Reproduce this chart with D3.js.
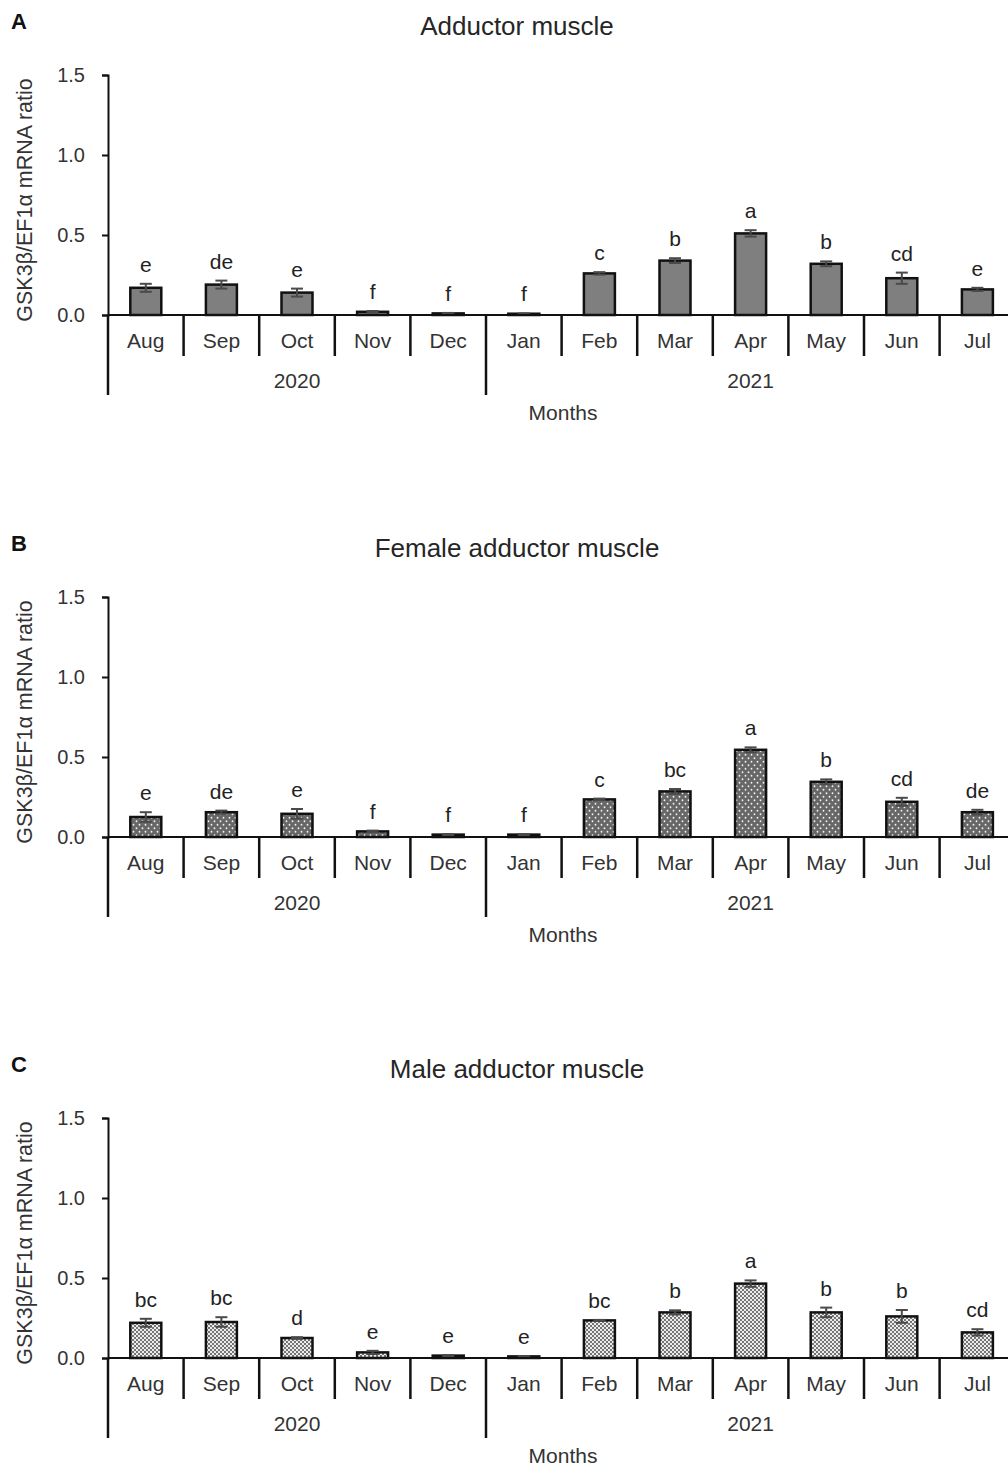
<!DOCTYPE html>
<html>
<head>
<meta charset="utf-8">
<script src="https://cdn.jsdelivr.net/npm/d3@7"></script>
<style>
  html, body { margin: 0; padding: 0; background: #fff; }
  svg { display: block; }
  text { font-family: "Liberation Sans", Arial, sans-serif; fill: #262626; }
</style>
</head>
<body>
<svg id="chart" width="1008" height="1468"></svg>
<script>
// ---- data ----
const months = ["Aug","Sep","Oct","Nov","Dec","Jan","Feb","Mar","Apr","May","Jun","Jul"];
const years = ["2020","2021"];
const yearMonthCounts = [5, 7];
const yTicks = [0, 0.5, 1.0, 1.5];
const yTitle = "GSK3β/EF1α mRNA ratio";
const xTitle = "Months";

const panelLabels = ["A","B","C"];
const panelTitles = ["Adductor muscle","Female adductor muscle","Male adductor muscle"];

const adductorValues  = [0.17, 0.19, 0.14, 0.02, 0.01, 0.008, 0.26, 0.34, 0.51, 0.32, 0.23, 0.16];
const adductorErrors  = [0.025,0.025,0.025,0.005,0.003,0.002,0.008,0.015,0.02, 0.015,0.035,0.01];
const adductorLetters = ["e","de","e","f","f","f","c","b","a","b","cd","e"];

const femaleValues  = [0.125,0.155,0.145,0.035,0.015,0.015,0.235,0.285,0.545,0.345,0.22, 0.155];
const femaleErrors  = [0.03, 0.01, 0.03, 0.005,0.003,0.003,0.005,0.015,0.015,0.015,0.025,0.015];
const femaleLetters = ["e","de","e","f","f","f","c","bc","a","b","cd","de"];

const maleValues  = [0.22, 0.225,0.125,0.035,0.015,0.01, 0.235,0.285,0.465,0.285,0.26, 0.16];
const maleErrors  = [0.025,0.03, 0.005,0.01, 0.003,0.002,0.003,0.013,0.02, 0.03, 0.04, 0.02];
const maleLetters = ["bc","bc","d","e","e","e","bc","b","a","b","b","cd"];

// ---- drawing ----
const svg = d3.select("#chart");
const defs = svg.append("defs");

// dotted pattern
const pDots = defs.append("pattern").attr("id","dots").attr("patternUnits","userSpaceOnUse")
  .attr("width",6).attr("height",7);
pDots.append("rect").attr("width",6).attr("height",7).attr("fill","#676767");
pDots.append("circle").attr("cx",1.5).attr("cy",1.75).attr("r",0.9).attr("fill","#f2f2f2");
pDots.append("circle").attr("cx",4.5).attr("cy",5.25).attr("r",0.9).attr("fill","#f2f2f2");

// checker pattern
const pChk = defs.append("pattern").attr("id","checker").attr("patternUnits","userSpaceOnUse")
  .attr("width",4).attr("height",4);
pChk.append("rect").attr("width",4).attr("height",4).attr("fill","#ececec");
pChk.append("rect").attr("width",2).attr("height",2).attr("fill","#757575");
pChk.append("rect").attr("x",2).attr("y",2).attr("width",2).attr("height",2).attr("fill","#757575");

const fills = ["#7f7f7f", "url(#dots)", "url(#checker)"];
const panelOffsets = [0, 522, 1043];
const datasets = [
  [adductorValues, adductorErrors, adductorLetters],
  [femaleValues, femaleErrors, femaleLetters],
  [maleValues, maleErrors, maleLetters]
];

const x0 = 108, xEnd = 1015.2;
const x = d3.scaleBand().domain(months).range([x0, xEnd]).paddingInner(0.59).paddingOuter(0.295);
const step = x.step();
const y = d3.scaleLinear().domain([0, 1.5]).range([315, 75]);

datasets.forEach((ds, p) => {
  const [vals, errs, lets] = ds;
  const g = svg.append("g").attr("transform", `translate(0,${panelOffsets[p]})`);

  g.append("text").attr("x", 11).attr("y", 29).attr("font-size", 22).attr("font-weight", "bold")
    .style("fill", "#111").text(panelLabels[p]);
  g.append("text").attr("x", 517).attr("y", 35).attr("text-anchor", "middle").attr("font-size", 26)
    .text(panelTitles[p]);

  // y axis
  const yAxis = d3.axisLeft(y).tickValues(yTicks).tickFormat(d3.format(".1f")).tickSize(6).tickPadding(17);
  const ya = g.append("g").attr("transform", `translate(${x0},0)`).call(yAxis);
  ya.select(".domain").attr("stroke", "#111").attr("stroke-width", 2);
  ya.selectAll(".tick line").attr("stroke", "#111").attr("stroke-width", 2);
  ya.selectAll(".tick text").attr("font-size", 20).style("font-family", "'Liberation Sans', Arial, sans-serif").style("fill", "#333");

  g.append("text").attr("transform", `translate(32,${(y(0)+y(1.5))/2 + 5}) rotate(-90)`)
    .attr("text-anchor", "middle").attr("font-size", 21.5).style("fill", "#333").text(yTitle);

  // bars
  g.selectAll("rect.bar").data(months).join("rect").attr("class","bar")
    .attr("x", d => x(d)).attr("width", x.bandwidth())
    .attr("y", (d,i) => y(vals[i])).attr("height", (d,i) => y(0) - y(vals[i]))
    .attr("fill", fills[p]).attr("stroke", "#111").attr("stroke-width", 2.5);

  // error bars
  const eb = g.append("g").attr("stroke", "#4a4a4a").attr("stroke-width", 2);
  months.forEach((m, i) => {
    const cx = x(m) + x.bandwidth()/2;
    const hi = y(vals[i] + errs[i]), lo = y(Math.max(0, vals[i] - errs[i]));
    eb.append("line").attr("x1", cx).attr("x2", cx).attr("y1", hi).attr("y2", lo);
    eb.append("line").attr("x1", cx-6).attr("x2", cx+6).attr("y1", hi).attr("y2", hi);
    eb.append("line").attr("x1", cx-6).attr("x2", cx+6).attr("y1", lo).attr("y2", lo);
  });

  // letters
  g.selectAll("text.sig").data(months).join("text").attr("class","sig")
    .attr("x", d => x(d) + x.bandwidth()/2)
    .attr("y", (d,i) => y(vals[i] + errs[i]) - 12)
    .attr("text-anchor","middle").attr("font-size", 21).style("fill","#222")
    .text((d,i) => lets[i]);

  // x axis line
  g.append("line").attr("x1", x0).attr("x2", xEnd).attr("y1", y(0)).attr("y2", y(0))
    .attr("stroke", "#111").attr("stroke-width", 2);

  // month separators
  const sepIdx = d3.range(1, months.length + 1);
  const yearBoundaries = d3.cumsum(yearMonthCounts);
  g.selectAll("line.sep").data(sepIdx).join("line").attr("class","sep")
    .attr("x1", i => x0 + step*i).attr("x2", i => x0 + step*i)
    .attr("y1", y(0)).attr("y2", i => yearBoundaries.includes(i) ? y(0)+80 : y(0)+41)
    .attr("stroke", "#111").attr("stroke-width", 2.5);
  g.append("line").attr("x1", x0).attr("x2", x0).attr("y1", y(0)).attr("y2", y(0)+80)
    .attr("stroke", "#111").attr("stroke-width", 2.5);

  // month labels
  g.selectAll("text.mon").data(months).join("text").attr("class","mon")
    .attr("x", d => x(d) + x.bandwidth()/2).attr("y", y(0) + 33)
    .attr("text-anchor","middle").attr("font-size", 21).style("fill","#333").text(d => d);

  // year labels
  let start = 0;
  years.forEach((yr, k) => {
    const n = yearMonthCounts[k];
    const cx = x0 + step*(start + n/2);
    g.append("text").attr("x", cx).attr("y", y(0) + 73).attr("text-anchor","middle")
      .attr("font-size", 21).style("fill","#333").text(yr);
    start += n;
  });

  g.append("text").attr("x", 563).attr("y", y(0) + 105).attr("text-anchor","middle")
    .attr("font-size", 21).style("fill","#333").text(xTitle);
});
</script>
</body>
</html>
